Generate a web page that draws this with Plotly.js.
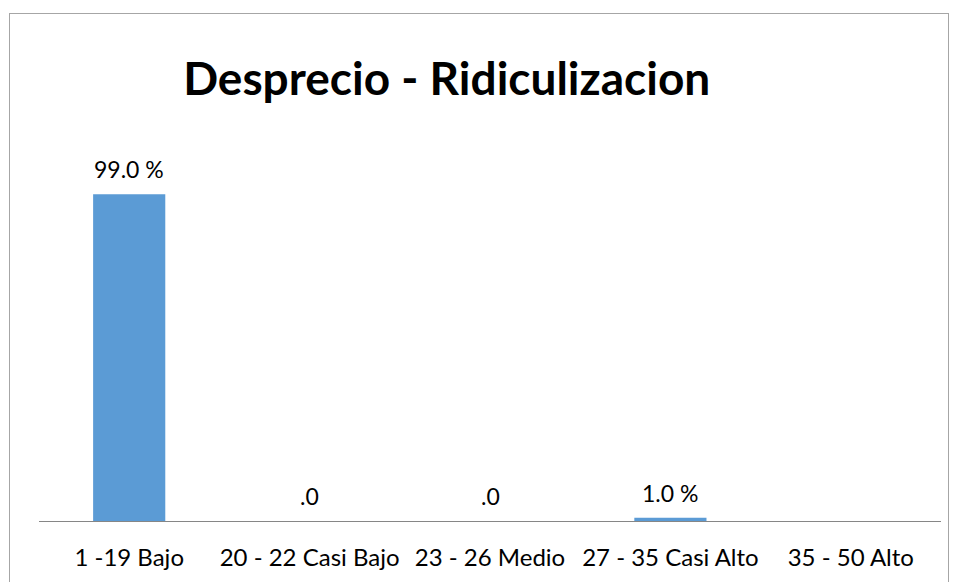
<!DOCTYPE html>
<html>
<head>
<meta charset="utf-8">
<script src="https://cdn.plot.ly/plotly-3.0.1.min.js"></script>
<style>
  body { margin: 0; background: #fff; }
  #wrap { position: relative; width: 957px; height: 582px; overflow: hidden; }
  #frame { position: absolute; left: 9px; top: 13px; width: 938px; height: 600px;
           border: 1px solid #a6a6a6; pointer-events: none; }
  #graph { width: 957px; height: 582px; }
</style>
</head>
<body>
<div id="wrap">
  <div id="graph"></div>
  <div id="frame"></div>
</div>
<script>
// categories and percentages
const categories = ['1 -19 Bajo', '20 - 22 Casi Bajo', '23 - 26 Medio', '27 - 35 Casi Alto', '35 - 50 Alto'];
const percents = [99.0, 0.0, 0.0, 1.0, null];
const valueLabels = ['99.0 %', '.0', '.0', '1.0 %', ''];

const font = 'Lato, "Open Sans", sans-serif';

const graphData = [{
  x: categories,
  y: percents,
  type: 'bar',
  marker: { color: '#5b9bd5' },
  hoverinfo: 'none'
}];

// value labels above each bar
const labels = categories.map((c, i) => ({
  x: c,
  y: percents[i] === null ? 0 : percents[i],
  text: valueLabels[i],
  showarrow: false,
  yanchor: 'bottom',
  yshift: 9,
  font: { family: font, size: 23, color: '#000' }
})).filter(a => a.text !== '');

const layout = {
  width: 957,
  height: 582,
  margin: { l: 39, r: 16, t: 191, b: 61 },
  paper_bgcolor: 'rgba(0,0,0,0)',
  plot_bgcolor: 'rgba(0,0,0,0)',
  bargap: 0.6,
  showlegend: false,
  title: {
    text: '<b>Desprecio - Ridiculizacion</b>',
    font: { family: font, size: 46, color: '#000' },
    x: 0.452,
    xanchor: 'center',
    xref: 'paper',
    y: 0.865,
    yanchor: 'middle'
  },
  xaxis: {
    showline: true,
    linecolor: '#868686',
    linewidth: 1,
    ticks: '',
    showgrid: false,
    zeroline: false,
    tickfont: { family: font, size: 24, color: '#000' },
    ticklabelstandoff: 15
  },
  yaxis: {
    visible: false,
    range: [0, 100],
    fixedrange: true
  },
  annotations: labels
};

Plotly.newPlot('graph', graphData, layout, { staticPlot: true });
</script>
</body>
</html>
